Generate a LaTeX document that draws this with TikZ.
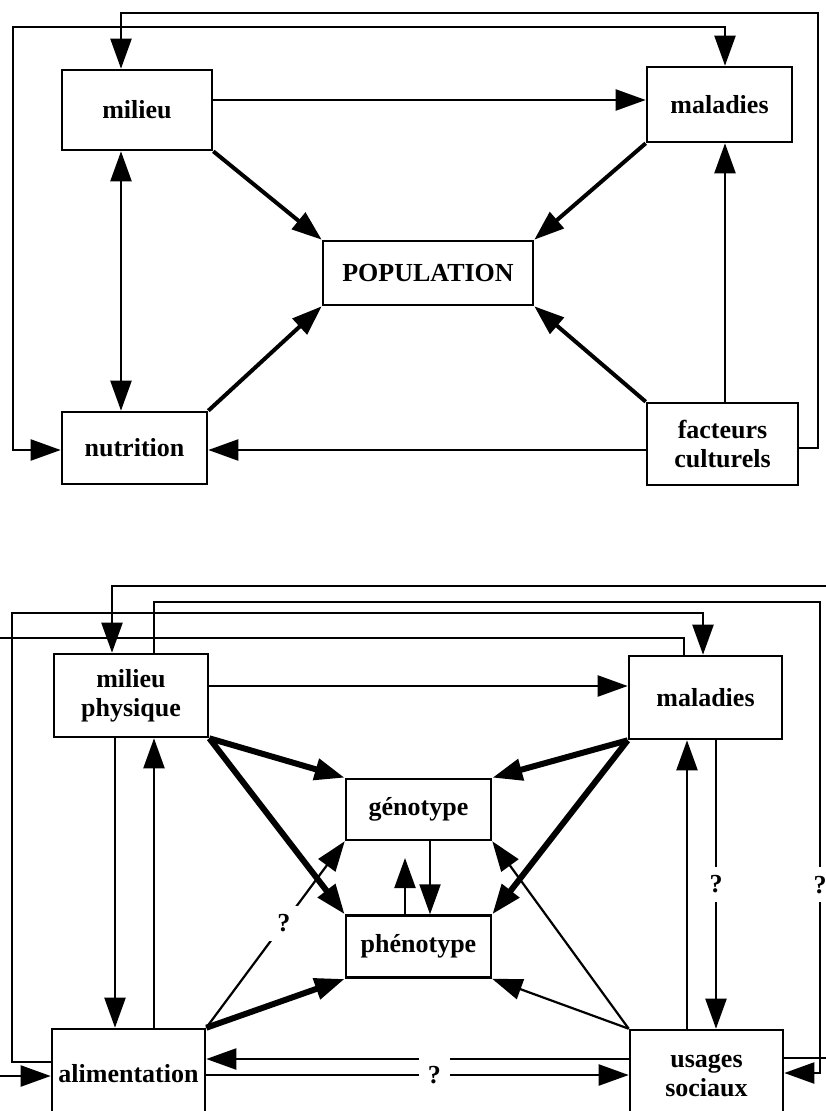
\documentclass[tikz,border=0pt]{standalone}
\usepackage{fontspec}
\setmainfont{Liberation Serif}
\usetikzlibrary{arrows.meta,positioning}

\tikzset{
  >={Triangle[length=30pt,width=21pt]},
  box/.style={draw, line width=2.6pt, inner sep=0pt, align=center,
    font=\fontsize{26}{29}\selectfont\bfseries},
  lnk/.style={line width=2.2pt},
  fat/.style={line width=4pt},
  fatter/.style={line width=6pt},
  qm/.style={fill=white, inner sep=9pt, font=\fontsize{26}{29}\selectfont\bfseries}
}

\begin{document}
\begin{tikzpicture}[x=1pt, y=-1pt]
  \useasboundingbox (0,0) rectangle (825,1111);

	\node[box, minimum width=150pt, minimum height=80pt] (mil) at (137,110) {milieu};
	\node[box, minimum width=145pt, minimum height=75pt] (mal) at (719.5,104.5) {maladies};
	\node[box, minimum width=210pt, minimum height=64pt] (pop) at (428,273) {POPULATION};
	\node[box, minimum width=145pt, minimum height=72pt] (nut) at (134.5,448) {nutrition};
	\node[box, minimum width=151pt, minimum height=82pt] (fac) at (722.5,444) {facteurs\\culturels};
	\coordinate (c1) at (818,13);
	\coordinate (c2) at (13,27);

	\draw[lnk,->] (mil.east |- 0,100) -- (mal.west |- 0,100);
	\draw[lnk,<->] (mil.south -| 121,0) -- (nut.north -| 121,0);
	\draw[fat,->] (mil.south east) -- (pop.north west);
	\draw[fat,->] (mal.south west) -- (pop.north east);
	\draw[fat,->] (nut.north east) -- (pop.south west);
	\draw[fat,->] (fac.north west) -- (pop.south east);
	\draw[lnk,->] (fac.north -| 725,0) -- (mal.south -| 725,0);
	\draw[lnk,->] (fac.west |- 0,450) -- (nut.east |- 0,450);
	\draw[lnk,->] (fac.east |- 0,448) -| (c1) -| (mil.north -| 121,0);
	\draw[lnk,<->] (nut.west |- 0,450) -| (c2) -| (mal.north -| 725,0);

	\node[box, minimum width=154pt, minimum height=83pt] (mil2) at (131,695.5) {milieu\\physique};
	\node[box, minimum width=153pt, minimum height=83pt] (mal2) at (705.5,697.5) {maladies};
	\node[box, minimum width=145pt, minimum height=61pt] (gen) at (418.5,809.5) {génotype};
	\node[box, minimum width=145pt, minimum height=62pt] (phe) [below=73pt of gen] {phénotype};
	\node[box, minimum width=153pt, minimum height=90pt] (ali) at (128.5,1074) {alimentation};
	\node[box, minimum width=153pt, minimum height=90pt] (usa) at (706.5,1075) {usages\\sociaux};
	\coordinate (d1) at (828,586);
	\coordinate (d2) at (820,602);
	\coordinate (d3) at (820,1073);
	\coordinate (d4) at (12,613);
	\coordinate (d5) at (-4,638);
	\coordinate (g1) at (405,858);

	\draw[lnk,->] (mil2.east |- 0,686) -- (mal2.west |- 0,686);
	\draw[lnk,->] (mil2.south -| 115,0) -- (ali.north -| 115,0);
	\draw[lnk,->] (ali.north -| 154,0) -- (mil2.south -| 154,0);
	\draw[lnk,->] (mal2.south -| 716,0) -- node[qm, pos=0.5] {?} (usa.north -| 716,0);
	\draw[lnk,->] (usa.north -| 687,0) -- (mal2.south -| 687,0);
	\draw[lnk,->] (gen.south -| 430,0) -- (phe.north -| 430,0);
	\draw[lnk,->] (phe.north -| g1) -- (g1);
	\draw[fatter,->] (mil2.south east) -- (gen.north west);
	\draw[fatter,->] (mil2.south east) -- (phe.north west);
	\draw[fatter,->] (mal2.south west) -- (gen.north east);
	\draw[fatter,->] (mal2.south west) -- (phe.north east);
	\draw[fatter,->] (ali.north east) -- (phe.south west);
	\draw[lnk,->] (ali.north east) -- node[qm, pos=0.56] {?} (gen.south west);
	\draw[lnk,->] (usa.north west) -- (phe.south east);
	\draw[lnk,->] (usa.north west) -- (gen.south east);
	\draw[lnk,->] (usa.west |- 0,1059) -- (ali.east |- 0,1059);
	\draw[lnk,->] (ali.east |- 0,1075) -- node[qm, pos=0.54] {?} (usa.west |- 0,1075);
	\draw[lnk,->] (usa.east |- 0,1058) -| (d1) -| (mil2.north -| 112,0);
	\draw[lnk,->] (mil2.north -| 154,0) |- (d2) -- node[qm, pos=0.6] {?} (d3) -- (usa.east |- d3);
	\draw[lnk,->] (ali.west |- 0,1062) -| (d4) -| (mal2.north -| 703,0);
	\draw[lnk,->] (mal2.north -| 684,0) |- (d5) |- (ali.west |- 0,1076);
\end{tikzpicture}
\end{document}
